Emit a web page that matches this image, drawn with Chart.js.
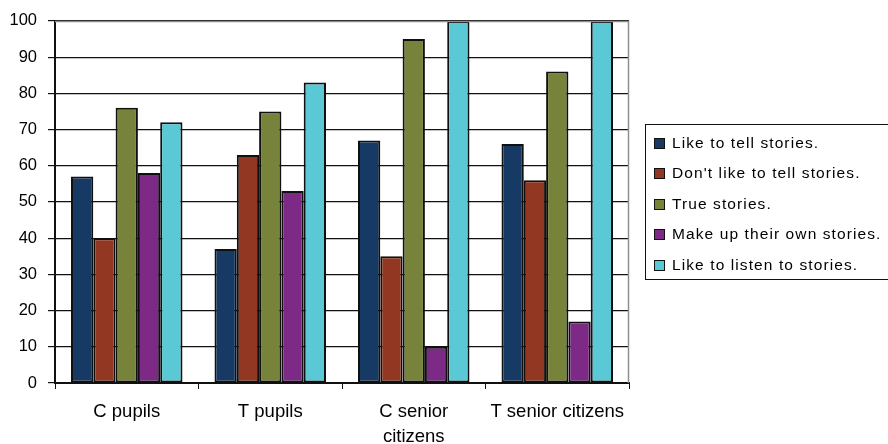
<!DOCTYPE html>
<html>
<head>
<meta charset="utf-8">
<script src="https://cdn.jsdelivr.net/npm/chart.js@4/dist/chart.umd.min.js"></script>
<style>
  html, body { margin: 0; padding: 0; background: #fff; }
  #wrap { width: 888px; height: 444px; }
</style>
</head>
<body>
<div id="wrap"><canvas id="c" width="888" height="444"></canvas></div>
<script>
// Survey groups along the x axis
const groups = ['C pupils', 'T pupils', ['C senior', 'citizens'], 'T senior citizens'];

// Answers, one list per statement (percent)
const likeToTell     = [57, 37, 67, 66];
const dontLikeToTell = [40, 63, 35, 56];
const trueStories    = [76, 75, 95, 86];
const makeUpOwn      = [58, 53, 10, 17];
const likeToListen   = [72, 83, 100, 100];

const seriesNames = [
  'Like to tell stories.',
  "Don't like to tell stories.",
  'True stories.',
  'Make up their own stories.',
  'Like to listen to stories.'
];
const seriesColors = ['#173a64', '#923822', '#77823a', '#7d2a86', '#5bc8d6'];

const yTicks = [0, 10, 20, 30, 40, 50, 60, 70, 80, 90, 100];

const FONT = '"Liberation Sans", Arial, sans-serif';

const datasets = [likeToTell, dontLikeToTell, trueStories, makeUpOwn, likeToListen].map((vals, i) => ({
  label: seriesNames[i],
  data: vals,
  backgroundColor: seriesColors[i],
  borderColor: '#101010',
  borderWidth: 2,
  borderSkipped: false,
  categoryPercentage: 0.777,
  barPercentage: 1.0
}));

// Grey frame on the top and right of the plot area
const frame = {
  id: 'frame',
  afterDatasetsDraw(chart) {
    const { ctx, chartArea: a } = chart;
    ctx.save();
    ctx.strokeStyle = '#8a8f94';
    ctx.lineWidth = 1.5;
    ctx.beginPath();
    ctx.moveTo(a.left, a.top + 0.5);
    ctx.lineTo(a.right - 0.5, a.top + 0.5);
    ctx.lineTo(a.right - 0.5, a.bottom);
    ctx.stroke();
    ctx.restore();
  }
};

// Boxed legend on the right
const boxLegend = {
  id: 'boxLegend',
  afterDraw(chart) {
    const { ctx } = chart;
    const x0 = 645, y0 = 124, w = 260, h = 155;
    ctx.save();
    ctx.strokeStyle = '#111';
    ctx.lineWidth = 1;
    ctx.strokeRect(x0 + 0.5, y0 + 0.5, w, h);
    ctx.font = '15.5px ' + FONT;
    ctx.letterSpacing = '1.1px';
    ctx.textBaseline = 'middle';
    chart.data.datasets.forEach((ds, i) => {
      const cy = Math.round(y0 + 18.5 + i * 30.5);
      ctx.fillStyle = ds.backgroundColor;
      ctx.fillRect(x0 + 9, cy - 5, 11, 11);
      ctx.strokeStyle = '#111';
      ctx.strokeRect(x0 + 9.5, cy - 4.5, 10, 10);
      ctx.fillStyle = '#000';
      ctx.fillText(ds.label, x0 + 27, cy + 1);
    });
    ctx.restore();
  }
};

new Chart(document.getElementById('c'), {
  type: 'bar',
  data: { labels: groups, datasets },
  options: {
    responsive: false,
    animation: false,
    devicePixelRatio: 1,
    layout: { padding: { top: 19, right: 259, left: 0, bottom: 0 } },
    plugins: {
      legend: { display: false },
      tooltip: { enabled: false }
    },
    scales: {
      x: {
        offset: true,
        grid: {
          offset: true,
          drawOnChartArea: false,
          color: '#111',
          tickLength: 6,
          tickColor: '#111'
        },
        border: { color: '#111', width: 2 },
        ticks: {
          color: '#000',
          font: { family: FONT, size: 18.5, lineHeight: 1.33 },
          padding: 11,
          maxRotation: 0,
          autoSkip: false
        },
        afterFit(scale) { scale.height = 61; }
      },
      y: {
        min: 0,
        max: 100,
        afterBuildTicks(scale) { scale.ticks = yTicks.map(v => ({ value: v })); },
        grid: {
          color: '#111',
          lineWidth: 1.2,
          tickLength: 7,
          tickColor: '#111'
        },
        border: { color: '#111', width: 2 },
        ticks: {
          color: '#000',
          font: { family: FONT, size: 16.5 },
          padding: 11
        },
        afterFit(scale) { scale.width = 55; }
      }
    }
  },
  plugins: [frame, boxLegend]
});
</script>
</body>
</html>
